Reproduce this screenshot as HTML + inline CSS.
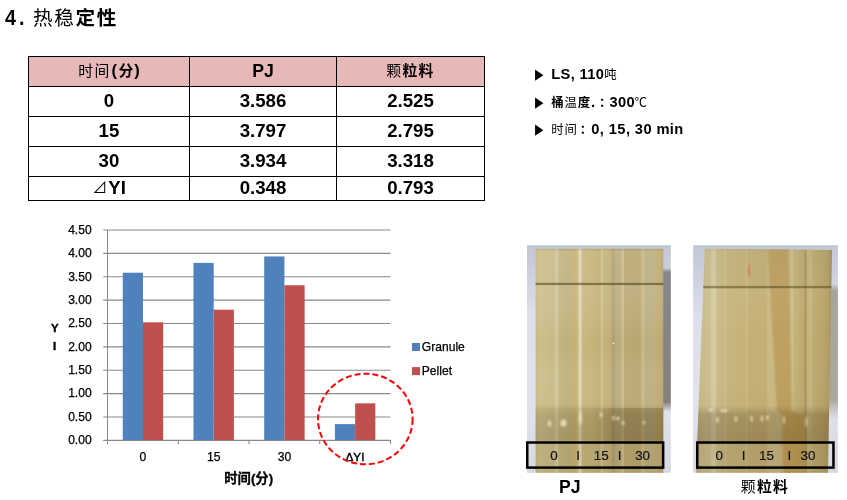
<!DOCTYPE html>
<html lang="zh">
<head>
<meta charset="utf-8">
<title>4. 热稳定性</title>
<style>
html,body{margin:0;padding:0;background:#fff;}
body{width:847px;height:500px;position:relative;overflow:hidden;
  font-family:"Liberation Sans","Noto Sans CJK SC",sans-serif;color:#000;}
.abs{position:absolute;white-space:nowrap;}
.b{font-weight:bold;}
.n{font-weight:normal;}
#title{left:4.5px;top:4px;font-size:22.7px;font-weight:bold;line-height:26px;}
#title i{font-style:normal;display:inline-block;transform:scaleX(0.87);transform-origin:0 50%;letter-spacing:3.4px;width:28.4px;}
#title span{font-size:19.6px;letter-spacing:1.7px;position:relative;top:-0.5px;}
#t{position:absolute;left:28px;top:56px;width:457px;height:145px;background:#000;}
#t div{position:absolute;background:#fff;text-align:center;font-weight:bold;font-size:18.67px;white-space:nowrap;overflow:hidden;}
#t div.h{background:#E6B8B7;}
#t div b{display:block;position:relative;font-weight:bold;}
#t .c{font-size:14.8px;letter-spacing:1.3px;position:relative;top:-1px;}
#t .p{font-size:16.5px;position:relative;top:-1.5px;margin-left:1px;}
#t .p+.c{margin-left:1.5px;}
#t .tri{font-weight:normal;font-size:15px;position:relative;top:-1px;margin-right:1px;}
#t tr.l td{height:23px;line-height:21.4px;}
.bul{left:535px;font-size:14.67px;font-weight:bold;line-height:18px;height:18px;}
.bul .a{display:inline-block;width:16.3px;font-size:11px;position:relative;top:-1.5px;font-family:"DejaVu Sans",sans-serif;transform:scaleY(1.35);transform-origin:50% 55%;}
.bul .c{font-size:12.4px;letter-spacing:0.8px;position:relative;top:-0.3px;}
.cal{font-family:"Liberation Sans","Noto Sans CJK SC",sans-serif;}
</style>
</head>
<body>
<div id="title" class="abs"><i>4. </i><span class="n">热稳</span><span>定性</span></div>

<div id="t">
<div class="h" style="left:1px;top:1px;width:160px;height:29px;line-height:27.4px"><span class="c n">时间</span><span class="p">(</span><span class="c">分</span><span class="p" style="margin-left:-0.5px">)</span></div>
<div class="h" style="left:162px;top:1px;width:146px;height:29px;line-height:27.4px"><span style="font-size:17.7px">PJ</span></div>
<div class="h" style="left:309px;top:1px;width:147px;height:29px;line-height:27.4px"><span class="c n">颗</span><span class="c">粒料</span></div>
<div style="left:1px;top:31px;width:160px;height:29px;line-height:27.4px">0</div>
<div style="left:162px;top:31px;width:146px;height:29px;line-height:27.4px">3.586</div>
<div style="left:309px;top:31px;width:147px;height:29px;line-height:27.4px">2.525</div>
<div style="left:1px;top:61px;width:160px;height:29px;line-height:27.4px">15</div>
<div style="left:162px;top:61px;width:146px;height:29px;line-height:27.4px">3.797</div>
<div style="left:309px;top:61px;width:147px;height:29px;line-height:27.4px">2.795</div>
<div style="left:1px;top:91px;width:160px;height:29px;line-height:27.4px">30</div>
<div style="left:162px;top:91px;width:146px;height:29px;line-height:27.4px">3.934</div>
<div style="left:309px;top:91px;width:147px;height:29px;line-height:27.4px">3.318</div>
<div style="left:1px;top:121px;width:160px;height:23px;line-height:21.4px"><span class="tri">⊿</span>YI</div>
<div style="left:162px;top:121px;width:146px;height:23px;line-height:21.4px">0.348</div>
<div style="left:309px;top:121px;width:147px;height:23px;line-height:21.4px">0.793</div>
</div>

<div class="abs bul" style="top:65px"><span class="a">▶</span><span style="letter-spacing:0.35px">LS, 110</span><span class="c n" style="margin-left:0px">吨</span></div>
<div class="abs bul" style="top:93px"><span class="a">▶</span><span class="c">桶</span><span class="c n">温</span><span class="c">度</span>.<span class="c" style="margin-left:4px">：</span><span style="letter-spacing:0.35px;margin-left:-2.7px">300</span><span class="c n" style="margin-left:-0.6px">℃</span></div>
<div class="abs bul" style="top:120px"><span class="a">▶</span><span class="c n">时间</span><span class="c" style="margin-left:2px">：</span><span style="letter-spacing:0.4px;margin-left:-1.6px">0, 15, 30 min</span></div>

<!-- chart -->
<svg class="abs" style="left:0;top:210px" width="500" height="290" viewBox="0 210 500 290" font-family="'Liberation Sans','Noto Sans CJK SC',sans-serif">
  <g stroke="#898989" stroke-width="1.1" fill="none">
    <line x1="103.2" x2="390.5" y1="230.00" y2="230.00"/>
    <line x1="103.2" x2="390.5" y1="253.38" y2="253.38"/>
    <line x1="103.2" x2="390.5" y1="276.76" y2="276.76"/>
    <line x1="103.2" x2="390.5" y1="300.14" y2="300.14"/>
    <line x1="103.2" x2="390.5" y1="323.52" y2="323.52"/>
    <line x1="103.2" x2="390.5" y1="346.90" y2="346.90"/>
    <line x1="103.2" x2="390.5" y1="370.28" y2="370.28"/>
    <line x1="103.2" x2="390.5" y1="393.66" y2="393.66"/>
    <line x1="103.2" x2="390.5" y1="417.04" y2="417.04"/>
    <line x1="103.2" x2="390.5" y1="440.42" y2="440.42"/>
    <line x1="107.5" x2="107.5" y1="229.5" y2="444.3" stroke-width="1"/>
    <line x1="178.32" x2="178.32" y1="440" y2="444.3"/>
    <line x1="249.05" x2="249.05" y1="440" y2="444.3"/>
    <line x1="319.77" x2="319.77" y1="440" y2="444.3"/>
    <line x1="390.50" x2="390.50" y1="440" y2="444.3"/>
  </g>
  <g fill="#4F81BD">
    <rect x="122.76" y="272.72" width="20.21" height="167.28"/>
    <rect x="193.48" y="262.85" width="20.21" height="177.15"/>
    <rect x="264.21" y="256.45" width="20.21" height="183.55"/>
    <rect x="334.93" y="424.13" width="20.21" height="15.87"/>
  </g>
  <g fill="#C0504D">
    <rect x="142.96" y="322.33" width="20.21" height="117.67"/>
    <rect x="213.69" y="309.71" width="20.21" height="130.29"/>
    <rect x="284.41" y="285.25" width="20.21" height="154.75"/>
    <rect x="355.14" y="403.32" width="20.21" height="36.68"/>
  </g>
  <g class="ct" font-size="12.1" fill="#000" text-anchor="end" stroke="#000" stroke-width="0.25">
    <text x="91.7" y="234.10">4.50</text>
    <text x="91.7" y="257.43">4.00</text>
    <text x="91.7" y="280.76">3.50</text>
    <text x="91.7" y="304.09">3.00</text>
    <text x="91.7" y="327.42">2.50</text>
    <text x="91.7" y="350.75">2.00</text>
    <text x="91.7" y="374.08">1.50</text>
    <text x="91.7" y="397.41">1.00</text>
    <text x="91.7" y="420.74">0.50</text>
    <text x="91.7" y="444.07">0.00</text>
  </g>
  <g class="ct" font-size="12.1" fill="#000" text-anchor="middle" stroke="#000" stroke-width="0.25">
    <text x="142.96" y="461.3">0</text>
    <text x="213.69" y="461.3">15</text>
    <text x="284.41" y="461.3">30</text>
    <text x="355" y="461.3" font-size="11.7" stroke-width="0.45">ΔYI</text>
  </g>
  <g font-size="11.4" font-weight="bold" text-anchor="middle" fill="#000" stroke="#000" stroke-width="0.4">
    <text x="54.7" y="331.5">Y</text>
    <text x="54.7" y="349.8">I</text>
    <text x="248.7" y="482.8" font-size="13.3" stroke="#000" stroke-width="0.3">时间(分)</text>
  </g>
  <rect x="412" y="343" width="8" height="8" fill="#4F81BD"/>
  <rect x="412" y="367.1" width="8" height="8" fill="#C0504D"/>
  <g font-size="12.1" fill="#000" stroke="#000" stroke-width="0.25">
    <text x="421.8" y="350.9">Granule</text>
    <text x="421.8" y="375">Pellet</text>
  </g>
  <ellipse cx="365.3" cy="419" rx="47.3" ry="45.3" fill="none" stroke="#FF0000" stroke-width="2" stroke-dasharray="6 3"/>
</svg>

<!-- photos -->
<svg class="abs" style="left:520px;top:240px" width="327" height="260" viewBox="520 240 327 260" font-family="'Liberation Sans','Noto Sans CJK SC',sans-serif">
  <defs>
    <linearGradient id="bgv" x1="0" y1="245" x2="0" y2="473" gradientUnits="userSpaceOnUse">
      <stop offset="0" stop-color="#C2C7D5"/>
      <stop offset="0.1" stop-color="#CACEDC"/>
      <stop offset="0.3" stop-color="#DCDFEA"/>
      <stop offset="0.7" stop-color="#E1E3EC"/>
      <stop offset="1" stop-color="#D6D8E2"/>
    </linearGradient>
    <linearGradient id="lh" x1="535.6" y1="0" x2="663.3" y2="0" gradientUnits="userSpaceOnUse">
      <stop offset="0.0000" stop-color="#C4B783"/>
      <stop offset="0.0345" stop-color="#CBBE8B"/>
      <stop offset="0.1441" stop-color="#C7B985"/>
      <stop offset="0.1597" stop-color="#D0C69B"/>
      <stop offset="0.1715" stop-color="#D0C69B"/>
      <stop offset="0.1832" stop-color="#C2B47F"/>
      <stop offset="0.2694" stop-color="#BDB07B"/>
      <stop offset="0.3164" stop-color="#C8B16F"/>
      <stop offset="0.3344" stop-color="#CDBC85"/>
      <stop offset="0.3414" stop-color="#DDD6BB"/>
      <stop offset="0.3555" stop-color="#DDD6BB"/>
      <stop offset="0.3657" stop-color="#C7B67D"/>
      <stop offset="0.4417" stop-color="#C4B379"/>
      <stop offset="0.5043" stop-color="#C1AE75"/>
      <stop offset="0.5137" stop-color="#CDC18D"/>
      <stop offset="0.5215" stop-color="#CDC18D"/>
      <stop offset="0.5317" stop-color="#C4B379"/>
      <stop offset="0.5826" stop-color="#C1AE75"/>
      <stop offset="0.6100" stop-color="#AD9F71"/>
      <stop offset="0.6296" stop-color="#B9AB7F"/>
      <stop offset="0.6711" stop-color="#BDAE79"/>
      <stop offset="0.6789" stop-color="#CBBF8B"/>
      <stop offset="0.6868" stop-color="#CBBF8B"/>
      <stop offset="0.6962" stop-color="#BAA873"/>
      <stop offset="0.8175" stop-color="#B8A671"/>
      <stop offset="0.8371" stop-color="#C5B887"/>
      <stop offset="0.8489" stop-color="#C5B887"/>
      <stop offset="0.8606" stop-color="#BDAC76"/>
      <stop offset="0.8958" stop-color="#B7B087"/>
      <stop offset="0.9272" stop-color="#BFAD77"/>
      <stop offset="0.9742" stop-color="#BEAA71"/>
      <stop offset="1.0000" stop-color="#B5A26B"/>
    </linearGradient>
    <linearGradient id="rh" x1="696" y1="0" x2="832" y2="0" gradientUnits="userSpaceOnUse">
      <stop offset="0.0000" stop-color="#C2B37E"/>
      <stop offset="0.0441" stop-color="#CABD8C"/>
      <stop offset="0.1029" stop-color="#CCC090"/>
      <stop offset="0.1176" stop-color="#D6CCA2"/>
      <stop offset="0.1397" stop-color="#D6CCA2"/>
      <stop offset="0.1581" stop-color="#CABB88"/>
      <stop offset="0.2059" stop-color="#C8B884"/>
      <stop offset="0.2169" stop-color="#CEC08E"/>
      <stop offset="0.2279" stop-color="#C8B680"/>
      <stop offset="0.3603" stop-color="#C6B37A"/>
      <stop offset="0.3713" stop-color="#CCBC86"/>
      <stop offset="0.3824" stop-color="#C5B178"/>
      <stop offset="0.5147" stop-color="#C4AF76"/>
      <stop offset="0.5294" stop-color="#CABA84"/>
      <stop offset="0.6912" stop-color="#C8B882"/>
      <stop offset="0.7059" stop-color="#D0C492"/>
      <stop offset="0.7206" stop-color="#C4B47A"/>
      <stop offset="0.7941" stop-color="#BCA86E"/>
      <stop offset="0.8051" stop-color="#AA9058"/>
      <stop offset="0.8199" stop-color="#C2B27C"/>
      <stop offset="0.8456" stop-color="#C6B680"/>
      <stop offset="0.8603" stop-color="#BEAC72"/>
      <stop offset="0.9412" stop-color="#B8A46A"/>
      <stop offset="0.9779" stop-color="#B09C64"/>
      <stop offset="1.0000" stop-color="#9C865E"/>
    </linearGradient>
    <linearGradient id="ovl" x1="0" y1="248.8" x2="0" y2="472.8" gradientUnits="userSpaceOnUse">
      <stop offset="0" stop-color="#6b5c25" stop-opacity="0.15"/>
      <stop offset="0.012" stop-color="#fff" stop-opacity="0.10"/>
      <stop offset="0.148" stop-color="#fff" stop-opacity="0.08"/>
      <stop offset="0.153" stop-color="#4e4218" stop-opacity="0.55"/>
      <stop offset="0.160" stop-color="#4e4218" stop-opacity="0.55"/>
      <stop offset="0.166" stop-color="#fff" stop-opacity="0.12"/>
      <stop offset="0.3" stop-color="#fff" stop-opacity="0.08"/>
      <stop offset="0.42" stop-color="#fff" stop-opacity="0.0"/>
      <stop offset="0.55" stop-color="#fff" stop-opacity="0.06"/>
      <stop offset="0.69" stop-color="#fff" stop-opacity="0.05"/>
      <stop offset="0.715" stop-color="#321e00" stop-opacity="0.08"/>
      <stop offset="0.74" stop-color="#321e00" stop-opacity="0.14"/>
      <stop offset="0.85" stop-color="#321e00" stop-opacity="0.18"/>
      <stop offset="0.865" stop-color="#321e00" stop-opacity="0.09"/>
      <stop offset="1" stop-color="#321e00" stop-opacity="0.08"/>
    </linearGradient>
    <linearGradient id="ovr" x1="0" y1="248.8" x2="0" y2="472.8" gradientUnits="userSpaceOnUse">
      <stop offset="0" stop-color="#6b5c25" stop-opacity="0.10"/>
      <stop offset="0.012" stop-color="#9a9a90" stop-opacity="0.10"/>
      <stop offset="0.163" stop-color="#9a9a90" stop-opacity="0.06"/>
      <stop offset="0.168" stop-color="#4e4218" stop-opacity="0.5"/>
      <stop offset="0.175" stop-color="#4e4218" stop-opacity="0.5"/>
      <stop offset="0.181" stop-color="#fff" stop-opacity="0.04"/>
      <stop offset="0.4" stop-color="#fff" stop-opacity="0.0"/>
      <stop offset="0.70" stop-color="#321e00" stop-opacity="0.02"/>
      <stop offset="0.74" stop-color="#321e00" stop-opacity="0.22"/>
      <stop offset="0.86" stop-color="#321e00" stop-opacity="0.27"/>
      <stop offset="0.875" stop-color="#321e00" stop-opacity="0.13"/>
      <stop offset="1" stop-color="#321e00" stop-opacity="0.11"/>
    </linearGradient>
    <linearGradient id="dkr" x1="536" y1="0" x2="663" y2="0" gradientUnits="userSpaceOnUse">
      <stop offset="0" stop-color="#321e00" stop-opacity="0"/>
      <stop offset="0.45" stop-color="#321e00" stop-opacity="0.02"/>
      <stop offset="0.6" stop-color="#321e00" stop-opacity="0.15"/>
      <stop offset="1" stop-color="#321e00" stop-opacity="0.18"/>
    </linearGradient>
    <linearGradient id="shl" x1="0" y1="268" x2="0" y2="412" gradientUnits="userSpaceOnUse">
      <stop offset="0" stop-color="#807A74" stop-opacity="0"/>
      <stop offset="0.03" stop-color="#88868C"/>
      <stop offset="0.93" stop-color="#848079"/>
      <stop offset="1" stop-color="#8a857f" stop-opacity="0"/>
    </linearGradient>
    <linearGradient id="shr" x1="0" y1="284" x2="0" y2="420" gradientUnits="userSpaceOnUse">
      <stop offset="0" stop-color="#A8A49A" stop-opacity="0"/>
      <stop offset="0.05" stop-color="#A7A49B"/>
      <stop offset="0.85" stop-color="#ABA79F"/>
      <stop offset="1" stop-color="#B5B2B0" stop-opacity="0"/>
    </linearGradient>
    <filter id="bl" x="-50%" y="-50%" width="200%" height="200%"><feGaussianBlur stdDeviation="0.9"/></filter>
    <filter id="bl2" x="-20%" y="-5%" width="140%" height="110%"><feGaussianBlur stdDeviation="1.2 0.6"/></filter>
    <clipPath id="cpr"><polygon points="704.8,248.8 832,250 828,472.8 696,472.8"/></clipPath>
  </defs>

  <!-- left photo -->
  <rect x="527" y="245.2" width="143.8" height="227.6" fill="url(#bgv)"/>
  <rect x="663" y="268" width="7.8" height="144" fill="url(#shl)"/>
  <rect x="535.6" y="248.8" width="127.7" height="224" fill="url(#lh)"/>
  <rect x="535.6" y="248.8" width="127.7" height="224" fill="url(#ovl)"/>
  <rect x="535.6" y="408" width="127.7" height="34" fill="url(#dkr)"/>
  <g fill="#F6EBC4" opacity="0.8" filter="url(#bl)">
    <ellipse cx="549.5" cy="423.5" rx="1.6" ry="3"/><ellipse cx="563.5" cy="423" rx="3" ry="3.6"/><ellipse cx="580.3" cy="418" rx="1.5" ry="7"/>
    <ellipse cx="601" cy="415" rx="1.2" ry="3"/><ellipse cx="613.5" cy="418" rx="1.2" ry="2.5"/><ellipse cx="623" cy="423" rx="1.5" ry="2"/><ellipse cx="644" cy="422.5" rx="1.3" ry="1.8"/><ellipse cx="618" cy="418.5" rx="1.5" ry="2"/>
  </g>
  <rect x="527.25" y="442.5" width="135.9" height="25.1" fill="none" stroke="#000" stroke-width="2.5"/>
  <g font-size="13.4" text-anchor="middle" fill="#141414" stroke="#141414" stroke-width="0.2">
    <text x="554" y="459.6">0</text><text x="578" y="459.6">I</text><text x="601.3" y="459.6">15</text><text x="619.6" y="459.6">I</text><text x="642.6" y="459.6">30</text>
  </g>

  <!-- right photo -->
  <rect x="693.1" y="245.2" width="144.8" height="227.6" fill="url(#bgv)"/>
  <rect x="826" y="284" width="11.9" height="136" fill="url(#shr)"/>
  <polygon points="704.8,248.8 832,250 828,472.8 696,472.8" fill="url(#rh)"/>
  <g clip-path="url(#cpr)"><g filter="url(#bl2)"><polygon points="767.5,247 788.5,247 792,411 777,411" fill="#BC9C5C" opacity="0.85"/>
  <polygon points="777,411 792,411 804,415 805,476 783,476 782,415" fill="#BE9850" opacity="0.8"/></g></g>
  <polygon points="704.8,248.8 832,250 828,472.8 696,472.8" fill="url(#ovr)"/>
  <g fill="#F6EBC4" opacity="0.8" filter="url(#bl)">
    <ellipse cx="711" cy="410" rx="2.6" ry="1.3"/><ellipse cx="724" cy="410.5" rx="4" ry="1.3"/><ellipse cx="717.5" cy="420" rx="1.2" ry="3"/>
    <ellipse cx="736" cy="419" rx="1.2" ry="3"/><ellipse cx="751.5" cy="418.5" rx="1.2" ry="3"/><ellipse cx="762" cy="418.5" rx="1.2" ry="3"/><ellipse cx="767.5" cy="417.5" rx="1.4" ry="2.2"/><ellipse cx="784" cy="420" rx="0.9" ry="4"/><ellipse cx="806.5" cy="422" rx="0.8" ry="5"/>
  </g>
  <ellipse cx="749" cy="270.5" rx="0.9" ry="6.5" fill="#D8643C" opacity="0.75" filter="url(#bl)"/>
  <ellipse cx="613.5" cy="343.5" rx="0.8" ry="0.9" fill="#FBF6E4" opacity="0.9"/>
  <rect x="697.25" y="442.5" width="136.2" height="25.1" fill="none" stroke="#000" stroke-width="2.5"/>
  <g font-size="13.4" text-anchor="middle" fill="#141414" stroke="#141414" stroke-width="0.2">
    <text x="719.2" y="459.6">0</text><text x="743.5" y="459.6">I</text><text x="766.5" y="459.6">15</text><text x="789.3" y="459.6">I</text><text x="808" y="459.6">30</text>
  </g>

  <g font-weight="bold" text-anchor="middle" fill="#000">
    <text x="569.8" y="493.2" font-size="17.7">PJ</text>
    <text x="765" y="492.2" font-size="14.8" letter-spacing="1.3"><tspan font-weight="normal">颗</tspan>粒料</text>
  </g>
</svg>
</body>
</html>
